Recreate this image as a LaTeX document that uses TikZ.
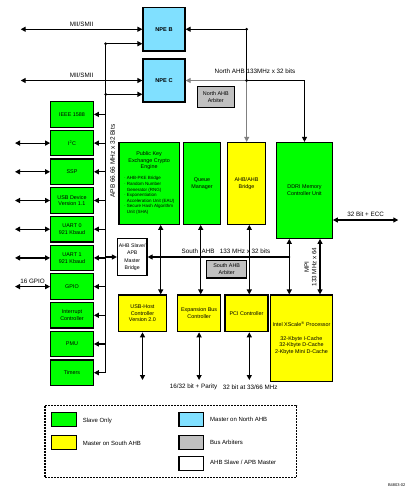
\documentclass[tikz,border=0pt]{standalone}
\usepackage{fontspec}
\setmainfont{Liberation Sans}
\usetikzlibrary{arrows.meta}
\definecolor{slavegreen}{RGB}{0,255,0}
\definecolor{southyellow}{RGB}{255,255,0}
\definecolor{northblue}{RGB}{128,224,255}
\definecolor{arbgray}{RGB}{192,192,192}
\tikzset{
  sz/.style 2 args={minimum width=#1pt, minimum height=#2pt},
  blk/.style={draw, line width=1.2pt, align=center, inner sep=0.5pt, font=\fontsize{5.4}{6.6}\selectfont},
  slv/.style={blk, fill=slavegreen},
  mst/.style={blk, fill=southyellow},
  npe/.style={blk, fill=northblue},
  arb/.style={blk, fill=arbgray},
  brg/.style={blk, fill=white},
  lcol/.style={slv, sz={42.6}{25.5}},
  bus/.style={line width=1.2pt},
  tip/.style={bus, -{Triangle[length=5pt,width=5pt]}},
  tips/.style={bus, {Triangle[length=5pt,width=5pt]}-{Triangle[length=5pt,width=5pt]}},
  lbl/.style={font=\fontsize{6.3}{7.5}\selectfont, inner sep=0.5pt},
  lgd/.style={font=\fontsize{6}{7}\selectfont, anchor=west, inner sep=0pt},
  jdot/.style={circle, fill=black, inner sep=0pt, minimum size=3pt}
}

\begin{document}
\begin{tikzpicture}[x=1pt,y=-1pt]
		%%%%% START %%%%%
		\useasboundingbox (0,0) rectangle (417,491);
		
		% NPEs on the North AHB
		\node[npe, sz={42}{43.5}, font=\fontsize{5.6}{6.6}\selectfont\bfseries] (npeb) at (164,29.25) {NPE B};
		\node[npe, sz={42}{43}, font=\fontsize{5.6}{6.6}\selectfont\bfseries] (npec) at (164,80.5) {NPE C};
		\coordinate (miib) at (20.7,29.25);
		\coordinate (miic) at (20.7,80.5);
		\draw[tips] (miib) -- (npeb.west) node[lbl, midway, above=2pt] {MII/SMII};
		\draw[tips] (miic) -- (npec.west) node[lbl, midway, above=2pt] {MII/SMII};
		
		% APB peripherals
		\node[lcol] (ieee) at (72,114.4) {IEEE 1588};
		\node[lcol] (i2c) at (72,143.1) {I\textsuperscript{2}C};
		\node[lcol] (ssp) at (72,171.8) {SSP};
		\node[lcol] (usbd) at (72,200.5) {USB Device\\Version 1.1};
		\node[lcol] (uart0) at (72,229.2) {UART 0\\921 Kbaud};
		\node[lcol] (uart1) at (72,257.9) {UART 1\\921 Kbaud};
		\node[lcol] (gpio) at (72,286.6) {GPIO};
		\node[lcol] (intc) at (72,315.3) {Interrupt\\Controller};
		\node[lcol] (pmu) at (72,344.0) {PMU};
		\node[lcol] (tmr) at (72,372.7) {Timers};
		
		\coordinate (apbtop) at (105.7,43.7);
		\coordinate (apbc) at (105.7,94.3);
		\coordinate (apbend) at (105.7,372.7);
		\draw[bus] (apbtop) -- (apbend);
		\draw[tip] (apbtop) -- (npeb.west |- apbtop);
		\draw[tip] (apbc) -- (npec.west |- apbc);
		\node[jdot] at (apbtop) {};
		\node[jdot] at (apbc) {};
		\draw[tip] (apbend |- ieee) -- (ieee.east);
		\draw[tip] (apbend |- i2c) -- (i2c.east);
		\draw[tip] (apbend |- ssp) -- (ssp.east);
		\draw[tip] (apbend |- usbd) -- (usbd.east);
		\draw[tip] (apbend |- uart0) -- (uart0.east);
		\draw[tip] (apbend |- uart1) -- (uart1.east);
		\draw[tip] (apbend |- gpio) -- (gpio.east);
		\draw[tip] (apbend |- intc) -- (intc.east);
		\draw[tip] (apbend |- pmu) -- (pmu.east);
		\draw[tip] (apbend) -- (tmr.east);
		\node[lbl, rotate=90, font=\fontsize{6.5}{7.5}\selectfont] at (112.5,161) {APB 66.66 MHz x 32 Bits};
		
		\coordinate (ext) at (15,0);
		\draw[tips] (ext |- i2c) -- (i2c.west);
		\draw[tips] (ext |- ssp) -- (ssp.west);
		\draw[tips] (ext |- usbd) -- (usbd.west);
		\draw[tips] (ext |- uart0) -- (uart0.west);
		\draw[tips] (ext |- uart1) -- (uart1.west);
		\draw[tips] (ext |- gpio) -- (gpio.west) node[lbl, midway, above=2pt] {16 GPIO};
		
		% upper row
		\node[slv, sz={60.3}{81.8}] (pke) at (149.15,183.4) {Public Key\\Exchange Crypto\\Engine\\[5pt]{\fontsize{4.5}{5.6}\selectfont\begin{tabular}{@{}l@{\,}l@{}}
			$\cdot$ & AHB-PKE Bridge\\
			$\cdot$ & Random Number\\
			& Generator (RNG)\\
			$\cdot$ & Exponentiation\\
			& Acceleration Unit (EAU)\\
			$\cdot$ & Secure Hash Algorithm\\
			& Unit (SHA)
		\end{tabular}}};
		\node[slv, sz={37.4}{81.8}] (qm) at (202,183.4) {Queue\\Manager};
		\node[mst, sz={37.6}{81.8}] (ahbbr) at (246.5,183.4) {AHB/AHB\\Bridge};
		\node[slv, sz={55.6}{95.8}] (ddr) at (304.5,190.4) {DDRI Memory\\Controller Unit};
		
		% North AHB
		\node[arb, sz={37}{20.6}] (narb) at (215.8,97) {North AHB\\Arbiter};
		\coordinate (nb) at (246.7,29.25);
		\coordinate (nc) at (246.7,80.5);
		\draw[tip] (nb) -- (npeb.east);
		\draw[line width=0.9pt] (nb) -- (nc);
		\draw[tip, gray, line width=1pt] (nc) -- (npec.east);
		\draw[tip, gray, line width=1pt] (nc) -- (nc |- ahbbr.north);
		\draw[tip] (nc) -| (ddr.north);
		\node[jdot] at (nb) {};
		\node[jdot] at (nc) {};
		\node[lbl] at (255,71.5) {North AHB 133MHz x 32 bits};
		
		\coordinate (ecc) at (398.3,220);
		\draw[tips] (ddr.east |- ecc) -- (ecc) node[lbl, midway, above=2pt] {32 Bit + ECC};
		
		% South AHB
		\node[brg, sz={29.5}{37.3}, font=\fontsize{5.2}{7.5}\selectfont] (apbbr) at (132.25,257) {AHB Slave/\\APB\\Master\\Bridge};
		\draw[tip] (apbend |- apbbr) -- (apbbr.west);
		\coordinate (sahb) at (289.3,257);
		\draw[tip] (sahb) -- (apbbr.east);
		\node[jdot, minimum size=2pt] at (sahb) {};
		\node[lbl] at (226,251.3) {South\ \ AHB\ \ \ 133 MHz x 32 bits};
		\node[arb, sz={40}{17.7}] (sarb) at (226.7,269.2) {South AHB\\Arbiter};
		
		% lower row
		\node[mst, sz={48.4}{36.7}] (usbh) at (142.5,313.35) {USB-Host\\Controller\\Version 2.0};
		\node[mst, sz={42.8}{36.7}] (exp) at (199.1,313.35) {Expansion Bus\\Controller};
		\node[mst, sz={43}{36.7}] (pci) at (246.5,313.35) {PCI Controller};
		\node[mst, sz={61.6}{86.7}] (xsc) at (301.5,338.35) {Intel XScale\textsuperscript{®} Processor\\[7pt]32-Kbyte I-Cache\\32-Kbyte D-Cache\\2-Kbyte Mini D-Cache};
		
		\coordinate (v1) at (160.7,0);
		\coordinate (v2) at (200.7,0);
		\coordinate (v3) at (249.3,0);
		\coordinate (v4) at (289.3,0);
		\coordinate (v5) at (320,0);
		\draw[tips] (v1 |- pke.south) -- (v1 |- usbh.north);
		\draw[tips] (v2 |- qm.south) -- (v2 |- exp.north);
		\draw[tips] (v3 |- ahbbr.south) -- (v3 |- pci.north);
		\draw[tips] (v4 |- ddr.south) -- (v4 |- xsc.north);
		\draw[tips] (v5 |- ddr.south) -- (v5 |- xsc.north);
		\node[lbl, rotate=90, align=center] at (310.5,267) {MPI\\133 MHz x 64};
		
		\coordinate (bot) at (0,380);
		\draw[tips] (usbh.south) -- (usbh.south |- bot);
		\draw[tips] (exp.south) -- (exp.south |- bot);
		\draw[tips] (v3 |- pci.south) -- (v3 |- bot);
		\node[lbl] at (193.5,387.3) {16/32 bit + Parity};
		\node[lbl] at (250.3,387.3) {32 bit at 33/66 MHz};
		
		% legend
		\draw[line width=1.2pt, dash pattern=on 2pt off 1pt] (45,405.7) rectangle (296.7,477.3);
		\node[slv, sz={25}{14}] (kslv) at (64.2,419.7) {};
		\node[mst, sz={25}{14}] (kmst) at (64.2,442.5) {};
		\node[npe, sz={24.3}{14}] (knpe) at (191.2,419.7) {};
		\node[arb, sz={24.3}{14}] (karb) at (191.2,442.5) {};
		\node[brg, sz={24.3}{14}] (kbrg) at (191.2,463.4) {};
		\node[lgd] at (82.7,420.5) {Slave Only};
		\node[lgd] at (82.7,443.3) {Master on South AHB};
		\node[lgd] at (210,419.3) {Master on North AHB};
		\node[lgd] at (210,442.7) {Bus Arbiters};
		\node[lgd] at (210,462.3) {AHB Slave / APB Master};
		
		\node[font=\fontsize{4}{5}\selectfont] (fig) at (396.7,485) {B4803-02};
		%%%%% END %%%%%
\end{tikzpicture}
\end{document}
